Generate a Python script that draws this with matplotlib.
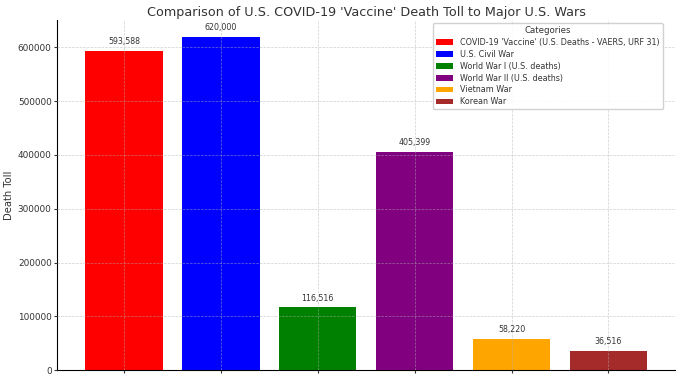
import matplotlib
matplotlib.use("Agg")
import matplotlib.pyplot as plt

categories = [
    "COVID-19 'Vaccine' (U.S. Deaths - VAERS, URF 31)",
    "U.S. Civil War",
    "World War I (U.S. deaths)",
    "World War II (U.S. deaths)",
    "Vietnam War",
    "Korean War",
]
deaths = [593588, 620000, 116516, 405399, 58220, 36516]
colors = ["red", "blue", "green", "purple", "orange", "brown"]

plt.rcParams["text.color"] = "#333333"
plt.rcParams["axes.labelcolor"] = "#333333"
plt.rcParams["xtick.color"] = "#333333"
plt.rcParams["ytick.color"] = "#333333"

fig = plt.figure(figsize=(6.8, 3.82), dpi=100)
ax = fig.add_axes([0.084, 0.031, 0.909, 0.917])

x = range(len(categories))
bars = ax.bar(x, deaths, color=colors, width=0.8, label=categories)
for b, v in zip(bars, deaths):
    ax.text(b.get_x() + b.get_width() / 2, b.get_height() + 9000, f"{v:,}",
            ha="center", va="bottom", fontsize=5.7)

ax.set_xticks(list(x))
ax.set_xticklabels([""] * len(categories))
ax.tick_params(axis="x", length=2)
ax.tick_params(axis="y", labelsize=6.4, length=2, pad=2)
ax.set_ylabel("Death Toll", fontsize=7.2, labelpad=3)
ax.set_title("Comparison of U.S. COVID-19 'Vaccine' Death Toll to Major U.S. Wars",
             fontsize=9.2, pad=3)
ax.grid(True, ls="--", color="#b0b0b0", lw=0.5, alpha=0.6)
ax.set_axisbelow(False)
ax.spines["top"].set_visible(False)
ax.spines["right"].set_visible(False)
ax.legend(title="Categories", fontsize=5.8, title_fontsize=6.2, loc="upper right",
          handlelength=2.2, framealpha=0.9, borderaxespad=0.4, labelspacing=0.35,
          bbox_to_anchor=(0.985, 1.0))

fig.savefig("out.png", dpi=100)
